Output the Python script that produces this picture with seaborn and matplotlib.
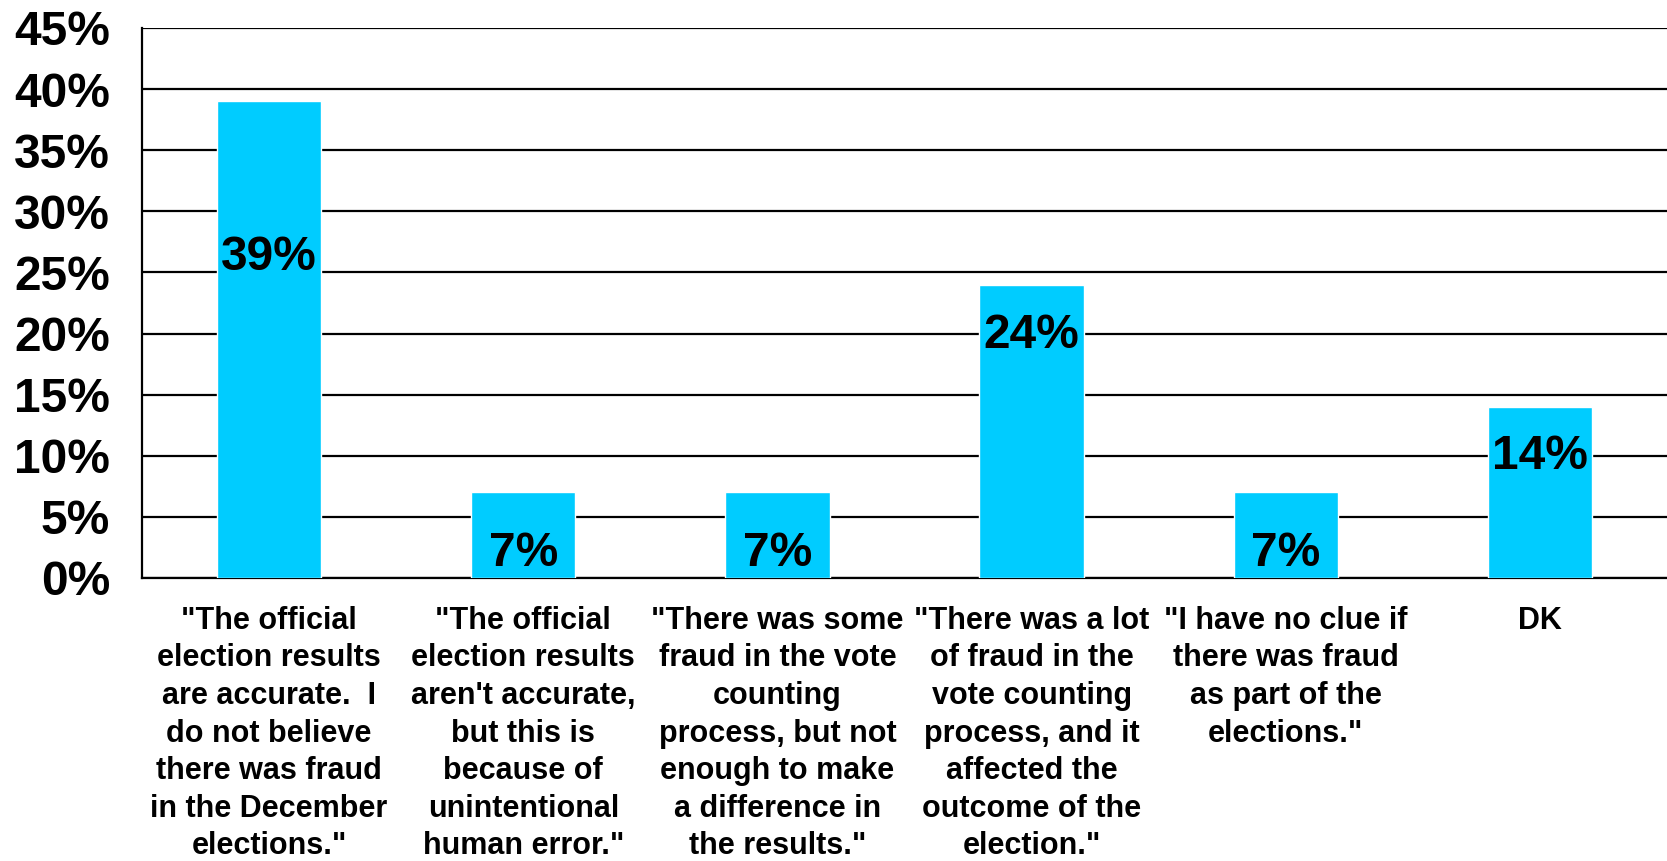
import matplotlib
matplotlib.use("Agg")
import matplotlib.pyplot as plt
import seaborn as sns
import pandas as pd
import numpy as np
from matplotlib.ticker import FixedLocator

# ---- Data ----
categories = [
    '"The official\nelection results\nare accurate.  I\ndo not believe\nthere was fraud\nin the December\nelections."',
    '"The official\nelection results\naren\'t accurate,\nbut this is\nbecause of\nunintentional\nhuman error."',
    '"There was some\nfraud in the vote\ncounting\nprocess, but not\nenough to make\na difference in\nthe results."',
    '"There was a lot\nof fraud in the\nvote counting\nprocess, and it\naffected the\noutcome of the\nelection."',
    '"I have no clue if\nthere was fraud\nas part of the\nelections."',
    'DK',
]
values = [39, 7, 7, 24, 7, 14]
y_ticks = [0, 5, 10, 15, 20, 25, 30, 35, 40, 45]

# how far below the bar top each value label sits (style only)
label_drop = [12.8, 5.0, 5.0, 4.2, 5.0, 4.1]

df = pd.DataFrame({"answer": categories, "share": values})

sns.set_style("white")
plt.rcParams['font.family'] = ['Liberation Sans', 'DejaVu Sans']
plt.rcParams['text.color'] = 'black'
plt.rcParams['xtick.color'] = 'black'
plt.rcParams['ytick.color'] = 'black'

fig = plt.figure(figsize=(16.67, 8.61), dpi=100)
ax = fig.add_axes([0.0852, 0.3287, 0.9148, 0.6388])

sns.barplot(data=df, x="answer", y="share", color="#00CCFF",
            width=0.41, saturation=1, ax=ax, zorder=3)

ax.set_ylim(0, 45)
ax.set_xlim(-0.5, len(categories) - 0.5)
ax.set_yticks(y_ticks)
ax.set_yticklabels([f"{t}%" for t in y_ticks], fontsize=34.5,
                   fontweight="bold", color="black")
ax.yaxis.grid(True, color="black", linewidth=1.6, zorder=0)
ax.set_axisbelow(True)
ax.tick_params(axis="y", length=12, width=1.6, color="black", pad=11)

# x ticks: labels at centres, short marks at category boundaries
ax.set_xticks(range(len(categories)))
ax.set_xticklabels(categories, fontsize=22, fontweight="bold",
                   linespacing=1.33, va="top", color="black")
ax.tick_params(axis="x", which="major", length=0, pad=20)
ax.xaxis.set_minor_locator(FixedLocator(np.arange(-0.5, len(categories), 1)))
ax.tick_params(axis="x", which="minor", length=6, width=1.6, color="black")

for s in ["top", "right"]:
    ax.spines[s].set_visible(False)
for s in ["left", "bottom"]:
    ax.spines[s].set_color("black")
    ax.spines[s].set_linewidth(1.6)

ax.set_xlabel("")
ax.set_ylabel("")

for i, v in enumerate(values):
    ax.text(i, v - label_drop[i], f"{v}%", ha="center", va="center",
            fontsize=34.5, fontweight="bold", color="black", zorder=4)

plt.savefig("out.png", dpi=100)
